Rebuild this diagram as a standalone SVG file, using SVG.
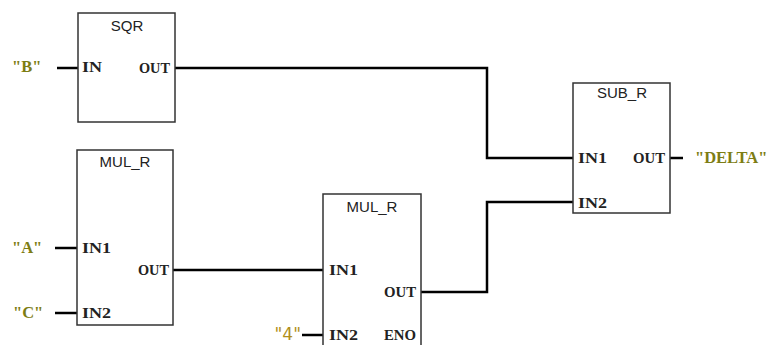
<svg xmlns="http://www.w3.org/2000/svg" width="767" height="345" viewBox="0 0 767 345">
<style>
.box{fill:#fff;stroke:#333;stroke-width:1.5}
.wire{fill:none;stroke:#000;stroke-width:2.5}
.title{font-family:"Liberation Sans",Arial,sans-serif;font-size:15px;fill:#222}
.pin{font-family:"Liberation Serif","Times New Roman",serif;font-size:15px;font-weight:bold;fill:#222}
.var{font-family:"Liberation Serif","Times New Roman",serif;font-size:16.5px;font-weight:bold;fill:#7d7d14}
.num{font-family:"DejaVu Sans",Verdana,sans-serif;font-size:17px;fill:#b08f1c}
</style>
<rect width="767" height="345" fill="#fff"/>
<g id="connectors">
<path class="wire" d="M57 68H78"/>
<path class="wire" d="M175 68H487V158H573"/>
<path class="wire" d="M55 248H77"/>
<path class="wire" d="M55 313H77"/>
<path class="wire" d="M173 270H323"/>
<path class="wire" d="M302 335H323"/>
<path class="wire" d="M421 292H487V202H573"/>
<path class="wire" d="M670 158H683"/>
</g>
<g id="sqr">
<rect class="box" x="78" y="13" width="97" height="109"/>
<text class="title" x="127" y="31" text-anchor="middle">SQR</text>
<text class="pin" x="82" y="72" textLength="20" lengthAdjust="spacingAndGlyphs">IN</text>
<text class="pin" x="139" y="73" textLength="31" lengthAdjust="spacingAndGlyphs">OUT</text>
</g>
<g id="mul1">
<rect class="box" x="77" y="150" width="96" height="175"/>
<text class="title" x="125" y="167" text-anchor="middle">MUL_R</text>
<text class="pin" x="82" y="253" textLength="29" lengthAdjust="spacingAndGlyphs">IN1</text>
<text class="pin" x="138" y="275" textLength="31" lengthAdjust="spacingAndGlyphs">OUT</text>
<text class="pin" x="82" y="318" textLength="29" lengthAdjust="spacingAndGlyphs">IN2</text>
</g>
<g id="mul2">
<rect class="box" x="323" y="194" width="98" height="160"/>
<text class="title" x="372" y="212" text-anchor="middle">MUL_R</text>
<text class="pin" x="329" y="275" textLength="29" lengthAdjust="spacingAndGlyphs">IN1</text>
<text class="pin" x="384" y="297" textLength="32" lengthAdjust="spacingAndGlyphs">OUT</text>
<text class="pin" x="329" y="340" textLength="29" lengthAdjust="spacingAndGlyphs">IN2</text>
<text class="pin" x="384" y="340" textLength="32" lengthAdjust="spacingAndGlyphs">ENO</text>
</g>
<g id="sub">
<rect class="box" x="573" y="83" width="97" height="130"/>
<text class="title" x="622" y="98" text-anchor="middle">SUB_R</text>
<text class="pin" x="578" y="163" textLength="29" lengthAdjust="spacingAndGlyphs">IN1</text>
<text class="pin" x="633" y="163" textLength="32" lengthAdjust="spacingAndGlyphs">OUT</text>
<text class="pin" x="578" y="208" textLength="29" lengthAdjust="spacingAndGlyphs">IN2</text>
</g>
<g id="labels">
<text class="var" x="12" y="72">"B"</text>
<text class="var" x="12" y="253">"A"</text>
<text class="var" x="13" y="318">"C"</text>
<text class="var" x="695" y="163">"DELTA"</text>
<text class="num" x="301" y="340" text-anchor="end">"4"</text>
</g>
</svg>
